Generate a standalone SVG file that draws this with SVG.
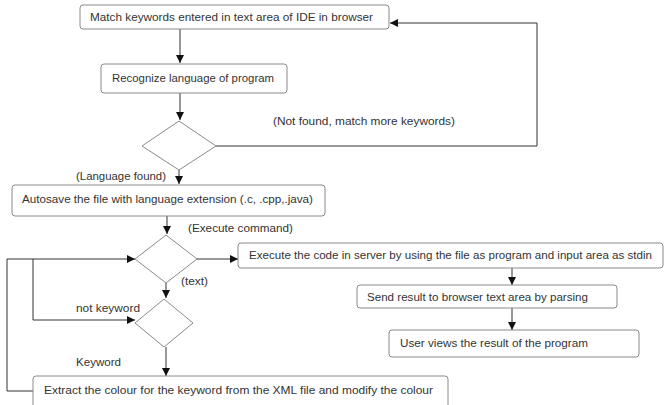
<svg xmlns="http://www.w3.org/2000/svg" width="664" height="405" viewBox="0 0 664 405">
<style>
.box{fill:#fff;stroke:#8a8a8a;stroke-width:1}
.dia{fill:#fff;stroke:#8a8a8a;stroke-width:1}
.t{font-family:"Liberation Sans","Open Sans",Arial,sans-serif;font-size:10.5px;fill:#333}
.ln{fill:none;stroke:#333;stroke-width:1}
</style>
<defs>
<marker id="ah" viewBox="0 0 10 10" refX="10" refY="5" markerWidth="8" markerHeight="8" markerUnits="userSpaceOnUse" orient="auto">
<path d="M0,0 L10,5 L0,10 Z" fill="#111"/>
</marker>
</defs>
<rect width="664" height="405" fill="#fff"/>
<g id="connectors">
<path class="ln" d="M180,29 V63" marker-end="url(#ah)"/>
<path class="ln" d="M180,93 V120" marker-end="url(#ah)"/>
<path class="ln" d="M216,146 H537 V23 H390" marker-end="url(#ah)"/>
<path class="ln" d="M179,170 V184" marker-end="url(#ah)"/>
<path class="ln" d="M167,216 V234" marker-end="url(#ah)"/>
<path class="ln" d="M197,259 H238" marker-end="url(#ah)"/>
<path class="ln" d="M512,268 V285" marker-end="url(#ah)"/>
<path class="ln" d="M512,308 V330" marker-end="url(#ah)"/>
<path class="ln" d="M166,283 V298" marker-end="url(#ah)"/>
<path class="ln" d="M166,347 V376" marker-end="url(#ah)"/>
<path class="ln" d="M33,391 H7 V259 H135" marker-end="url(#ah)"/>
<path class="ln" d="M33,259 V320 H135" marker-end="url(#ah)"/>
</g>
<g id="n1"><rect class="box" x="80" y="5" width="309" height="24" rx="3"/><text class="t" x="90" y="21" textLength="283" lengthAdjust="spacingAndGlyphs">Match keywords entered in text area of IDE in browser</text></g>
<g id="n2"><rect class="box" x="101" y="64" width="186" height="29" rx="3"/><text class="t" x="112" y="82" textLength="162" lengthAdjust="spacingAndGlyphs">Recognize language of program</text></g>
<g id="d1"><polygon class="dia" points="179,121 216,146 179,170 142,146"/></g>
<g id="n3"><rect class="box" x="12" y="185" width="313" height="31" rx="3"/><text class="t" x="22" y="203" textLength="291" lengthAdjust="spacingAndGlyphs">Autosave the file with language extension (.c, .cpp,.java)</text></g>
<g id="d2"><polygon class="dia" points="166,235 197,259 166,283 135,259"/></g>
<g id="n4"><rect class="box" x="238" y="243" width="425" height="25" rx="3"/><text class="t" x="249" y="259" textLength="403" lengthAdjust="spacingAndGlyphs">Execute the code in server by using the file as program and input area as stdin</text></g>
<g id="n5"><rect class="box" x="357" y="285" width="260" height="23" rx="3"/><text class="t" x="367" y="301" textLength="221" lengthAdjust="spacingAndGlyphs">Send result to browser text area by parsing</text></g>
<g id="n6"><rect class="box" x="389" y="330" width="250" height="27" rx="3"/><text class="t" x="400" y="347" textLength="188" lengthAdjust="spacingAndGlyphs">User views the result of the program</text></g>
<g id="d3"><polygon class="dia" points="164,299 193,323 164,347 135,323"/></g>
<g id="n7"><rect class="box" x="33" y="376" width="415" height="34" rx="3"/><text class="t" x="44" y="394" textLength="389" lengthAdjust="spacingAndGlyphs">Extract the colour for the keyword from the XML file and modify the colour</text></g>
<g id="labels">
<text class="t" x="273" y="125" textLength="182" lengthAdjust="spacingAndGlyphs">(Not found, match more keywords)</text>
<text class="t" x="76" y="180" textLength="90" lengthAdjust="spacingAndGlyphs">(Language found)</text>
<text class="t" x="188" y="232" textLength="105" lengthAdjust="spacingAndGlyphs">(Execute command)</text>
<text class="t" x="181" y="285" textLength="27" lengthAdjust="spacingAndGlyphs">(text)</text>
<text class="t" x="76" y="312" textLength="64" lengthAdjust="spacingAndGlyphs">not keyword</text>
<text class="t" x="76" y="366" textLength="45" lengthAdjust="spacingAndGlyphs">Keyword</text>
</g>
</svg>
